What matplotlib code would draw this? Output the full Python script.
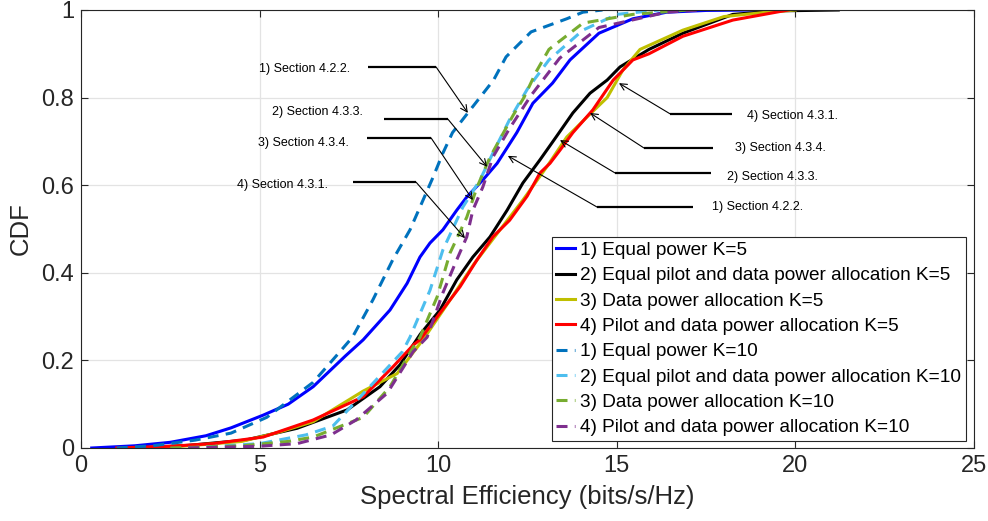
import matplotlib
matplotlib.use("Agg")
import matplotlib.pyplot as plt

plt.rcParams['font.family'] = ['Liberation Sans', 'DejaVu Sans']

# ---------------- data ----------------
se_k5_equal = [0.3, 1.5, 2.5, 3.5, 4.2, 5.1, 5.8, 6.5, 7.4, 7.9, 8.65, 9.13, 9.49, 9.77, 10.13, 10.52, 10.8,
               11.25, 11.65, 12.2, 12.65, 13.2, 13.69, 14.5, 15.45, 16.4, 17.5, 19.0]
cdf_k5_equal = [0.0, 0.005, 0.013, 0.028, 0.046, 0.075, 0.10, 0.14, 0.21, 0.247, 0.315, 0.376, 0.436, 0.468, 0.498,
                0.543, 0.573, 0.612, 0.65, 0.72, 0.787, 0.833, 0.886, 0.947, 0.98, 0.995, 0.999, 1.0]

se_k5_eqpd = [1.6, 3.0, 4.6, 6.05, 7.45, 8.37, 8.93, 9.5, 10.05, 10.52, 10.97, 11.45, 11.93, 12.37, 12.85, 13.3,
              13.77, 14.25, 14.73, 15.09, 15.9, 16.85, 18.25, 19.5, 21.2]
cdf_k5_eqpd = [0.0, 0.006, 0.018, 0.045, 0.087, 0.14, 0.19, 0.26, 0.315, 0.384, 0.436, 0.482, 0.543, 0.605, 0.658,
               0.71, 0.765, 0.81, 0.84, 0.87, 0.91, 0.947, 0.99, 0.998, 1.0]

se_k5_data = [1.5, 3.0, 4.5, 5.5, 6.5, 7.9, 8.85, 9.6, 10.35, 11.0, 11.73, 12.37, 13.04, 13.6, 14.17, 14.73, 15.17,
              15.65, 16.85, 18.0, 19.2, 20.0]
cdf_k5_data = [0.0, 0.005, 0.015, 0.035, 0.06, 0.13, 0.17, 0.25, 0.34, 0.42, 0.498, 0.566, 0.642, 0.71, 0.756, 0.80,
               0.863, 0.91, 0.954, 0.985, 0.995, 1.0]

se_k5_pd = [1.0, 2.5, 3.7, 5.1, 6.5, 7.9, 8.73, 9.3, 9.49, 10.05, 10.61, 11.09, 11.53, 12.0, 12.49, 12.85, 13.13,
            13.41, 13.77, 14.33, 14.9, 15.2, 15.45, 15.9, 16.85, 18.25, 19.8]
cdf_k5_pd = [0.0, 0.004, 0.01, 0.025, 0.064, 0.117, 0.185, 0.235, 0.247, 0.308, 0.368, 0.43, 0.482, 0.52, 0.575,
             0.628, 0.65, 0.68, 0.72, 0.772, 0.84, 0.865, 0.886, 0.90, 0.94, 0.977, 1.0]

se_k10_equal = [1.0, 2.0, 3.2, 4.2, 5.2, 6.5, 7.25, 7.6, 8.17, 8.73, 9.21, 9.49, 9.86, 10.13, 10.4, 10.83, 11.55,
                11.9, 12.6, 13.6, 14.05, 14.6]
cdf_k10_equal = [0.0, 0.005, 0.018, 0.034, 0.07, 0.15, 0.22, 0.253, 0.338, 0.43, 0.498, 0.55, 0.619, 0.673, 0.72,
                 0.765, 0.84, 0.893, 0.95, 0.98, 0.995, 1.0]

se_k10_eqpd = [3.0, 5.0, 6.3, 7.05, 8.2, 9.0, 9.21, 9.77, 10.13, 10.69, 11.17, 11.53, 12.0, 12.5, 13.1, 14.05,
               15.0, 16.2]
cdf_k10_eqpd = [0.0, 0.01, 0.03, 0.05, 0.15, 0.22, 0.253, 0.36, 0.452, 0.55, 0.612, 0.673, 0.75, 0.82, 0.886,
                0.954, 0.99, 1.0]

se_k10_data = [2.5, 4.5, 5.8, 6.5, 7.9, 8.65, 9.3, 9.49, 9.97, 10.33, 10.8, 11.09, 11.45, 12.1, 12.4, 12.75,
               13.1, 14.05, 15.45, 17.0]
cdf_k10_data = [0.0, 0.005, 0.015, 0.025, 0.07, 0.14, 0.23, 0.253, 0.345, 0.445, 0.527, 0.596, 0.664, 0.76,
                0.80, 0.86, 0.91, 0.97, 0.99, 1.0]

se_k10_pd = [3.0, 5.0, 6.05, 7.0, 7.7, 8.57, 9.3, 9.69, 10.13, 10.52, 10.8, 10.97, 11.25, 11.53, 12.0, 12.6,
             13.4, 14.5, 16.4, 17.3]
cdf_k10_pd = [0.0, 0.004, 0.01, 0.03, 0.064, 0.125, 0.22, 0.253, 0.354, 0.43, 0.482, 0.543, 0.596, 0.664,
              0.73, 0.805, 0.89, 0.96, 0.995, 1.0]

labels = ["1) Equal power K=5",
          "2) Equal pilot and data power allocation K=5",
          "3) Data power allocation K=5",
          "4) Pilot and data power allocation K=5",
          "1) Equal power K=10",
          "2) Equal pilot and data power allocation K=10",
          "3) Data power allocation K=10",
          "4) Pilot and data power allocation K=10"]

x_ticks = [0, 5, 10, 15, 20, 25]
y_ticks = [0, 0.2, 0.4, 0.6, 0.8, 1]
y_tick_labels = ["0", "0.2", "0.4", "0.6", "0.8", "1"]

# annotations: (text, text pos, bar start, bar end, arrow target)
left_notes = [("1) Section 4.2.2.", (6.27, 0.865), (8.03, 0.870), (9.94, 0.870), (10.83, 0.765)),
              ("2) Section 4.3.3.", (6.61, 0.767), (8.48, 0.751), (10.27, 0.751), (11.37, 0.642)),
              ("3) Section 4.3.4.", (6.24, 0.696), (8.01, 0.708), (9.80, 0.708), (10.97, 0.566)),
              ("4) Section 4.3.1.", (5.63, 0.600), (7.61, 0.607), (9.38, 0.607), (10.75, 0.479))]
right_notes = [("4) Section 4.3.1.", (19.93, 0.758), (16.49, 0.763), (18.23, 0.763), (15.06, 0.833)),
               ("3) Section 4.3.4.", (19.57, 0.685), (15.76, 0.685), (17.69, 0.685), (14.25, 0.765)),
               ("2) Section 4.3.3.", (19.37, 0.619), (14.95, 0.628), (17.64, 0.628), (13.41, 0.703)),
               ("1) Section 4.2.2.", (18.95, 0.550), (14.45, 0.550), (17.13, 0.550), (11.95, 0.667))]

# ---------------- figure ----------------
fig = plt.figure(figsize=(9.88, 5.21), dpi=100)
ax = fig.add_axes([81 / 988, 1 - 448 / 521, (974 - 81) / 988, (448 - 10) / 521])

lw = 2.2
dash = (3.6, 2.4)
ax.plot(se_k5_equal, cdf_k5_equal, color='#0000FF', lw=lw, label=labels[0])
ax.plot(se_k5_eqpd, cdf_k5_eqpd, color='#000000', lw=lw, label=labels[1])
ax.plot(se_k5_data, cdf_k5_data, color='#BFBF00', lw=lw, label=labels[2])
ax.plot(se_k5_pd, cdf_k5_pd, color='#FF0000', lw=lw, label=labels[3])
ax.plot(se_k10_equal, cdf_k10_equal, color='#0072BD', lw=lw, dashes=dash, label=labels[4])
ax.plot(se_k10_eqpd, cdf_k10_eqpd, color='#4DBEEE', lw=lw, dashes=dash, label=labels[5])
ax.plot(se_k10_data, cdf_k10_data, color='#77AC30', lw=lw, dashes=dash, label=labels[6])
ax.plot(se_k10_pd, cdf_k10_pd, color='#7E2F8E', lw=lw, dashes=dash, label=labels[7])

ax.set_xlim(0, 25)
ax.set_ylim(0, 1)
ax.set_xticks(x_ticks)
ax.set_yticks(y_ticks)
ax.set_yticklabels(y_tick_labels)
ax.grid(True, color='#e3e3e3', lw=0.9)
ax.set_axisbelow(True)
ax.tick_params(direction='in', length=5, width=0.8, colors='#262626', labelsize=17,
               top=True, right=True, pad=5)
for s in ax.spines.values():
    s.set_color('#262626')
    s.set_linewidth(0.8)

ax.set_xlabel("Spectral Efficiency (bits/s/Hz)", fontsize=18.5, color='#262626', labelpad=6)
ax.set_ylabel("CDF", fontsize=18.5, color='#262626', labelpad=6)

for notes in (left_notes, right_notes):
    for txt, tpos, b0, b1, tgt in notes:
        ax.text(tpos[0], tpos[1], txt, fontsize=9, ha='center', va='center', color='k')
        ax.plot([b0[0], b1[0]], [b0[1], b1[1]], color='k', lw=1.6, solid_capstyle='butt')
        start = b1 if notes is left_notes else b0
        ax.annotate("", xy=tgt, xytext=start,
                    arrowprops=dict(arrowstyle='->', lw=0.8, color='k', mutation_scale=12,
                                    shrinkA=0, shrinkB=0))

leg = ax.legend(loc='lower right', bbox_to_anchor=(0.991, 0.016), borderaxespad=0,
                fontsize=13.7, handlelength=1.0, handletextpad=0.25, labelspacing=0.42,
                borderpad=0.25, fancybox=False, framealpha=1, edgecolor='#262626')
leg.get_frame().set_linewidth(0.8)

fig.savefig("out.png", dpi=100)
